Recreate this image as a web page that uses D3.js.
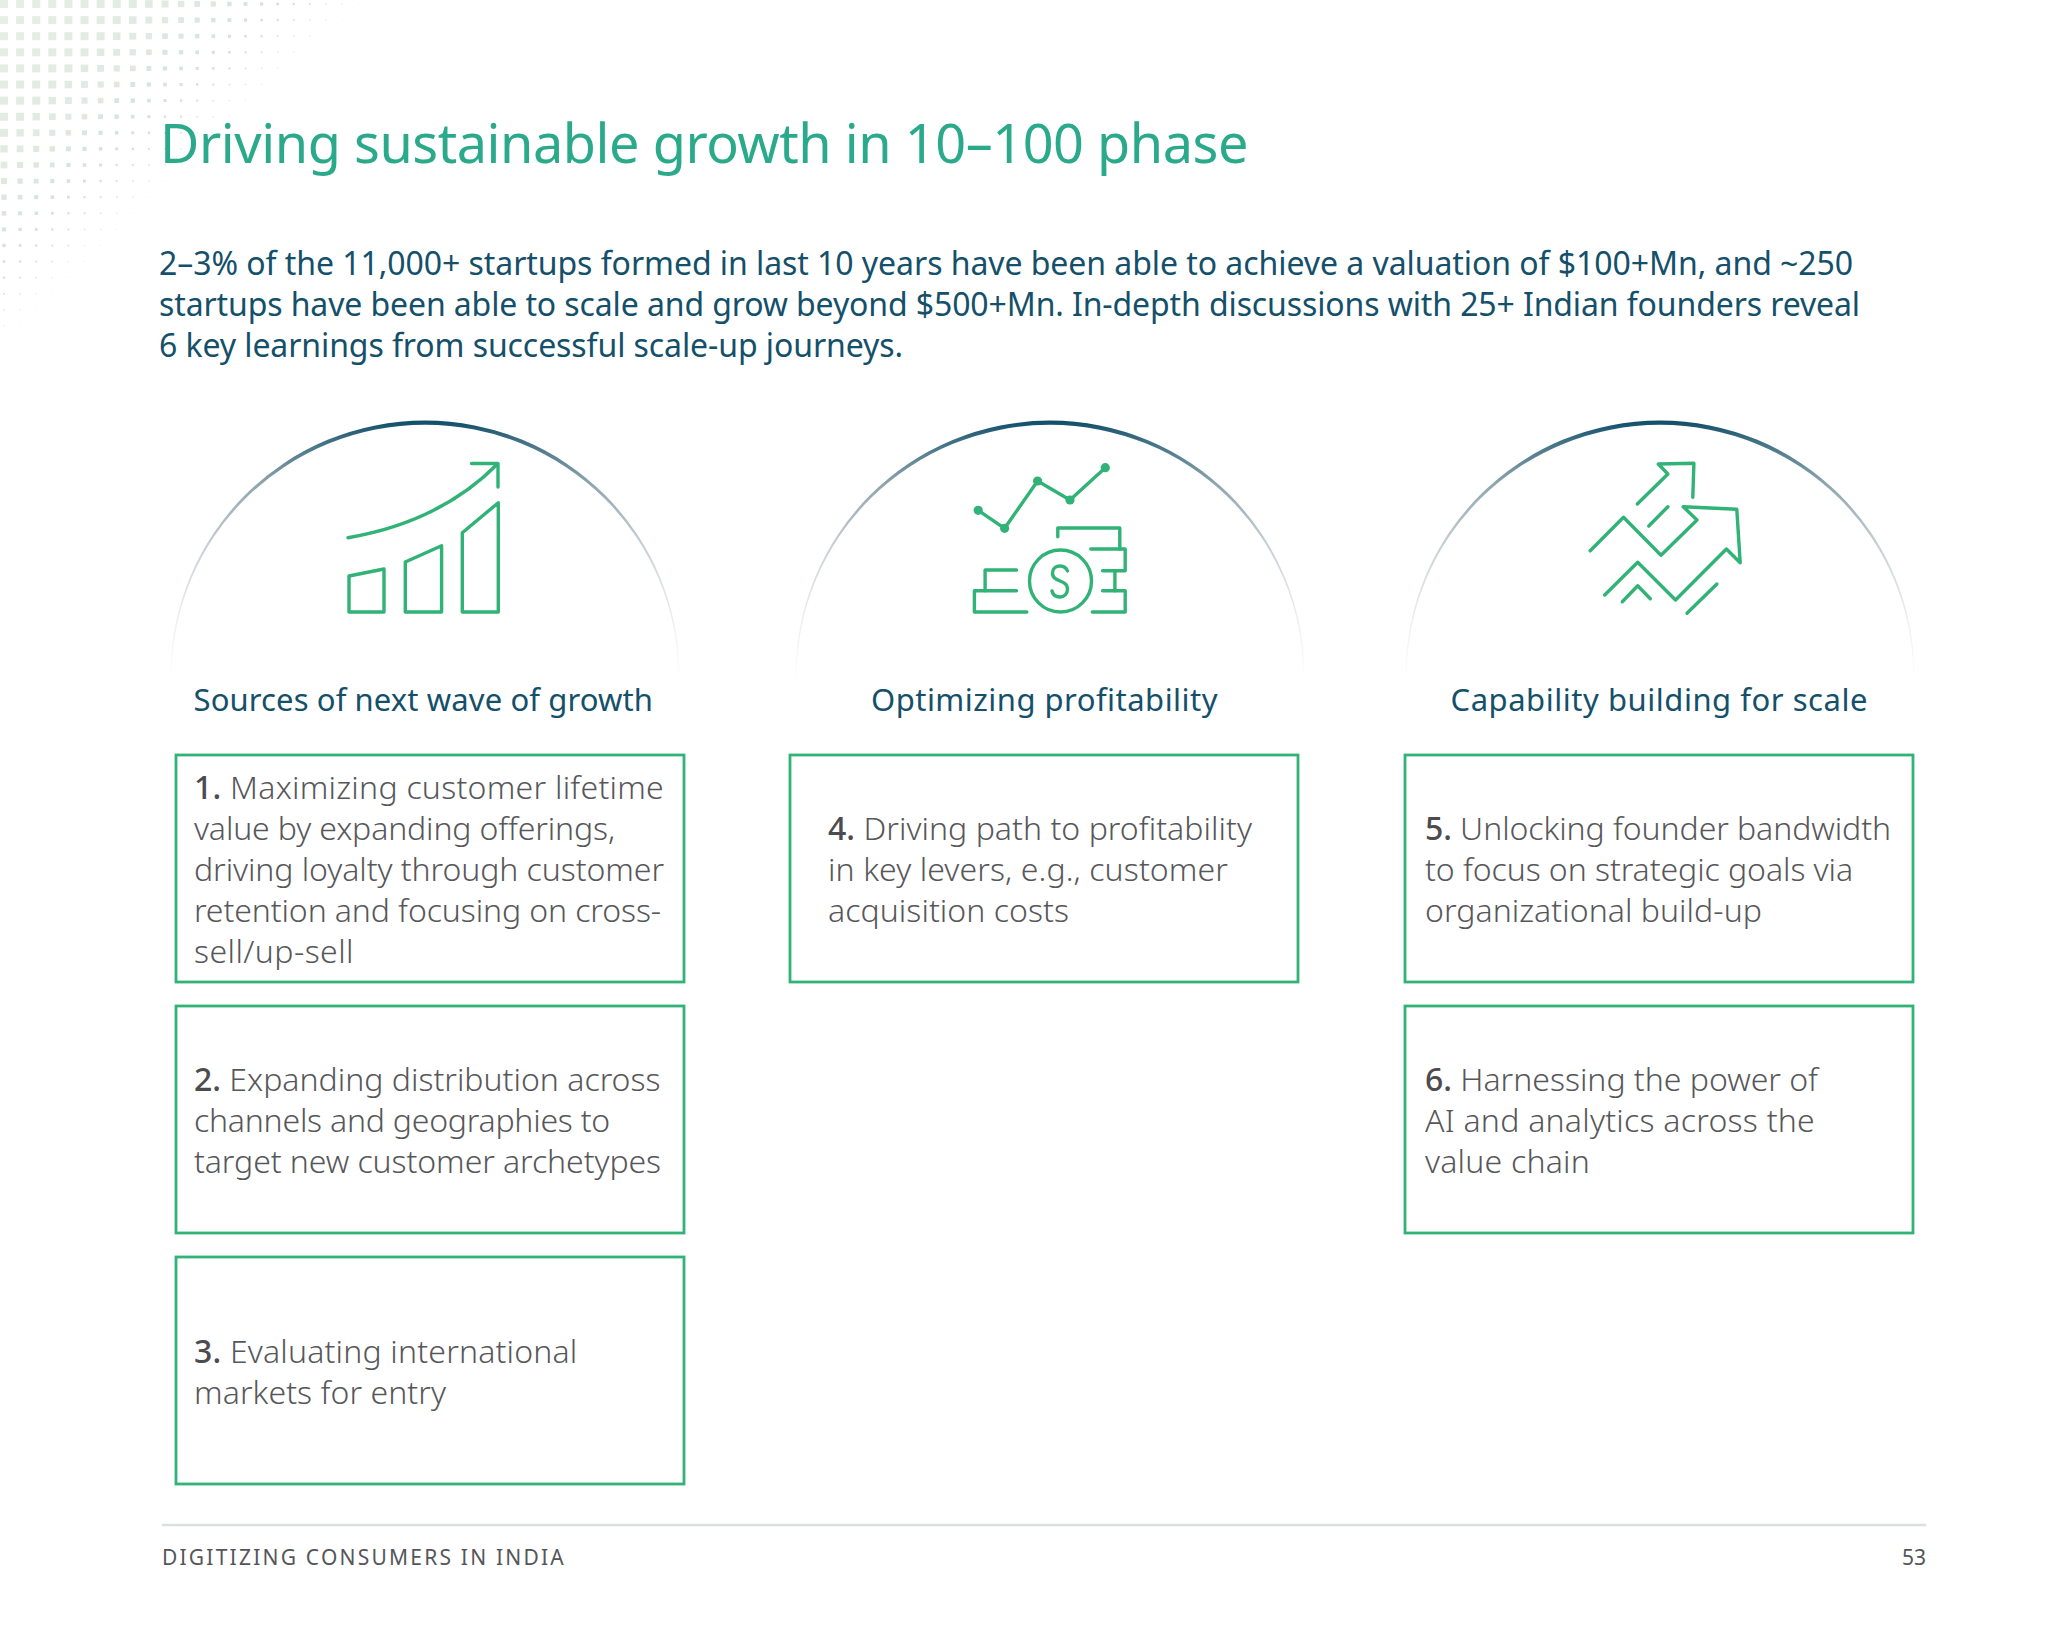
<!DOCTYPE html>
<html>
<head>
<meta charset="utf-8">
<title>Driving sustainable growth in 10–100 phase</title>
<script src="https://cdn.jsdelivr.net/npm/d3@7"></script>
<style>
  html, body { margin: 0; background: #fff; }
  svg { display: block; }
  text { font-family: "Noto Sans", "Open Sans", sans-serif; font-kerning: normal; }
</style>
</head>
<body>
<svg id="chart" width="2048" height="1638"></svg>
<script>
// text content
const titleText = "Driving sustainable growth in 10–100 phase";
const introLines = [
    "2–3% of the 11,000+ startups formed in last 10 years have been able to achieve a valuation of $100+Mn, and ~250",
    "startups have been able to scale and grow beyond $500+Mn. In-depth discussions with 25+ Indian founders reveal",
    "6 key learnings from successful scale-up journeys."
];
const columnHeadings = ["Sources of next wave of growth", "Optimizing profitability", "Capability building for scale"];
const cardColumns = [0, 0, 0, 1, 2, 2];
const cardRows = [0, 1, 2, 0, 0, 1];
const cardNumbers = ["1.", "2.", "3.", "4.", "5.", "6."];
const cardLines = [
    ["Maximizing customer lifetime", "value by expanding offerings,", "driving loyalty through customer", "retention and focusing on cross-", "sell/up-sell"],
    ["Expanding distribution across", "channels and geographies to", "target new customer archetypes"],
    ["Evaluating international", "markets for entry"],
    ["Driving path to profitability", "in key levers, e.g., customer", "acquisition costs"],
    ["Unlocking founder bandwidth", "to focus on strategic goals via", "organizational build-up"],
    ["Harnessing the power of", "AI and analytics across the", "value chain"]
];
const footerText = "DIGITIZING CONSUMERS IN INDIA";
const pageNumber = "53";

// right edge of each text line, used to fit the line widths
const introLineEnds = [1853, 1860, 903];
const headingSpans = [[193.5, 653], [871, 1218], [1450.5, 1868]];
const cardLineEnds = [
    [664, 615, 664, 661, 354],
    [660.5, 610, 661],
    [577.5, 446],
    [1252, 1228, 1069],
    [1891, 1853, 1762],
    [1818, 1815, 1590]
];

// icon outlines, page pixels
const iconPolylines = [
    // bars + arrow
    [[471.5, 463.5], [498, 463.5], [498, 487]],
    [[349, 612], [349, 576], [384, 569], [384, 612], [349, 612]],
    [[405.3, 612], [405.3, 562], [441.6, 545.7], [441.6, 612], [405.3, 612]],
    [[462.3, 612], [462.3, 532.7], [498.3, 502.7], [498.3, 612], [462.3, 612]],
    // coins + trend line
    [[978.2, 510.3], [1004.6, 528.3], [1037.6, 481], [1070, 500], [1105.3, 467.7]],
    [[1026.8, 612], [974.4, 612], [974.4, 590.7], [1016.5, 590.7]],
    [[985.1, 590.7], [985.1, 570], [1016.5, 570]],
    [[1092.3, 612], [1125.2, 612], [1125.2, 590.7], [1102.6, 590.7]],
    [[1114.9, 590.7], [1114.9, 570.7]],
    [[1102.6, 570.7], [1125.2, 570.7], [1125.2, 549], [1090.8, 549]],
    [[1119.8, 549], [1119.8, 528], [1057.8, 528], [1057.8, 536.7]],
    // arrows
    [[1637.3, 504], [1667.9, 474], [1658.3, 464], [1693.9, 463.3], [1692.8, 497.3]],
    [[1648.8, 526], [1667.9, 506.7]],
    [[1590.2, 550.7], [1623.5, 517.3], [1661, 555.3], [1697, 520], [1683.2, 506.7], [1736.8, 509.3], [1740.2, 562.7], [1726.4, 549], [1675.5, 600], [1637.7, 562.3], [1604.7, 595]],
    [[1622.3, 601.7], [1637.7, 585.7], [1650.3, 598.7]],
    [[1687, 613.3], [1716.9, 584]]
];
const iconDots = [[978.2, 510.3], [1004.6, 528.3], [1037.6, 481], [1070, 500], [1105.3, 467.7]];

const green = "#31b276", teal = "#14506a", bodyGrey = "#57575a";

const svg = d3.select("#chart");

// layout scales
const cardX = d3.scaleOrdinal().domain([0, 1, 2]).range([176, 790, 1405]);
const cardWidth = 508;
const cardY = d3.scaleOrdinal().domain([0, 1, 2]).range([755, 1006, 1257]);
const cardHeight = 227;
const cardTextX = d3.scaleOrdinal().domain([0, 1, 2]).range([194, 828, 1425]);
const arcCx = d3.scaleOrdinal().domain([0, 1, 2]).range([425, 1050, 1660]);
const lineStep = 41;

// spread a line's letters so it ends where the reference line ends
function fitLine(node, width) {
    const chars = node.textContent.length;
    const measured = node.getComputedTextLength();
    d3.select(node).style("letter-spacing", ((width - measured) / chars) + "px");
}

// dotted corner decoration
const dotSize = d3.scaleLinear().domain([0, 8, 11, 16, 21]).range([8, 8, 6, 2.6, 0.8]).clamp(true);
const dotFill = d3.scaleLinear().domain([0, 10, 16, 21]).range(["#e6efe5", "#e1eae3", "#d6dfd9", "#e6ebe8"]).clamp(true);
const dotCells = d3.cross(d3.range(24), d3.range(22))
    .map(([i, j]) => ({ i, j, d: i * 0.95 + j }))
    .filter(c => c.d < 21);
svg.append("g").selectAll("rect")
    .data(dotCells)
    .enter().append("rect")
    .attr("x", c => 4 + c.i * 16.1 - dotSize(c.d) / 2)
    .attr("y", c => 4 + c.j * 16.1 - dotSize(c.d) / 2)
    .attr("width", c => dotSize(c.d))
    .attr("height", c => dotSize(c.d))
    .attr("fill", c => dotFill(c.d));

// title + intro
svg.append("text")
    .attr("x", 160).attr("y", 163)
    .attr("font-size", 54).attr("fill", "#2aaa8a")
    .text(titleText)
    .each(function() { fitLine(this, 1248 - 160); });

svg.append("g").selectAll("text")
    .data(introLines)
    .enter().append("text")
    .attr("x", 159).attr("y", (d, i) => 275 + i * lineStep)
    .attr("font-size", 32).attr("fill", teal)
    .text(d => d)
    .each(function(d, i) { fitLine(this, introLineEnds[i] - 159); });

// semicircle arcs, thin at the ends
const defs = svg.append("defs");
const grad = defs.append("linearGradient")
    .attr("id", "arcFade")
    .attr("x1", 0).attr("y1", 0).attr("x2", 0).attr("y2", 1);
grad.append("stop").attr("offset", "0%").attr("stop-color", "#0f4d68");
grad.append("stop").attr("offset", "8%").attr("stop-color", "#3f7084");
grad.append("stop").attr("offset", "25%").attr("stop-color", "#8fa5af");
grad.append("stop").attr("offset", "48%").attr("stop-color", "#c6ced2");
grad.append("stop").attr("offset", "75%").attr("stop-color", "#e9ecee");
grad.append("stop").attr("offset", "100%").attr("stop-color", "#fdfdfd");

const arcR = 254.5, arcCy = 675;
svg.append("g").selectAll("path")
    .data(columnHeadings)
    .enter().append("path")
    .attr("d", (d, i) => {
        const cx = arcCx(i);
        return `M${cx - arcR},${arcCy}A${arcR},${arcR} 0 0 1 ${cx + arcR},${arcCy}L${cx + arcR - 1.3},${arcCy}A${arcR - 1.3},${arcR - 4.2} 0 0 0 ${cx - arcR + 1.3},${arcCy}Z`;
    })
    .attr("fill", "url(#arcFade)");

// icons
const iconGroup = svg.append("g")
    .attr("fill", "none").attr("stroke", green)
    .attr("stroke-width", 3.4)
    .attr("stroke-linecap", "round").attr("stroke-linejoin", "round");
const line = d3.line();
iconGroup.selectAll("path.poly")
    .data(iconPolylines)
    .enter().append("path")
    .attr("class", "poly")
    .attr("d", line);
iconGroup.append("path").attr("d", "M348,537.7Q440,522 497.5,464");
iconGroup.append("circle").attr("cx", 1060.5).attr("cy", 581).attr("r", 31);
iconGroup.append("path").attr("d", "M1067.5,571C1066,567 1063,566 1060,566C1056,566 1052.5,568.5 1052.5,573C1052.5,583 1067.5,579 1067.5,589C1067.5,594 1064,597 1060,597C1056,597 1053,595 1052,591");
svg.append("g").selectAll("circle")
    .data(iconDots)
    .enter().append("circle")
    .attr("cx", d => d[0]).attr("cy", d => d[1]).attr("r", 4.6)
    .attr("fill", green);

// column headings
svg.append("g").selectAll("text")
    .data(columnHeadings)
    .enter().append("text")
    .attr("x", (d, i) => headingSpans[i][0]).attr("y", 711)
    .attr("font-size", 31).attr("fill", teal)
    .text(d => d)
    .each(function(d, i) { fitLine(this, headingSpans[i][1] - headingSpans[i][0]); });

// cards
const cards = svg.append("g").selectAll("g")
    .data(cardLines)
    .enter().append("g");

cards.append("rect")
    .attr("x", (d, i) => cardX(cardColumns[i]))
    .attr("y", (d, i) => cardY(cardRows[i]))
    .attr("width", cardWidth)
    .attr("height", cardHeight)
    .attr("fill", "#fff")
    .attr("stroke", green)
    .attr("stroke-width", 2.8);

cards.each(function(lines, c) {
    const left = cardTextX(cardColumns[c]);
    const top = cardY(cardRows[c]);
    const labels = d3.select(this).selectAll("text")
        .data(lines)
        .enter().append("text")
        .attr("x", left)
        .attr("y", (d, i) => top + 126 + (i - (lines.length - 1) / 2) * lineStep)
        .attr("font-size", 32)
        .attr("font-weight", 300)
        .attr("fill", bodyGrey);
    labels.filter((d, i) => i === 0).append("tspan")
        .attr("font-weight", 500).attr("fill", "#4c4c4f")
        .text(cardNumbers[c] + " ");
    labels.append("tspan").text(d => d);
    labels.each(function(d, i) { fitLine(this, cardLineEnds[c][i] - left); });
});

// footer
svg.append("line")
    .attr("x1", 162).attr("x2", 1926)
    .attr("y1", 1525).attr("y2", 1525)
    .attr("stroke", "#dcdfe0").attr("stroke-width", 2.6);
svg.append("text")
    .attr("x", 162).attr("y", 1565)
    .attr("font-size", 21).attr("fill", "#55565a")
    .text(footerText)
    .each(function() { fitLine(this, 566 - 162); });
svg.append("text")
    .attr("x", 1926).attr("y", 1565)
    .attr("text-anchor", "end")
    .attr("font-size", 21).attr("fill", "#55565a")
    .text(pageNumber);
</script>
</body>
</html>
